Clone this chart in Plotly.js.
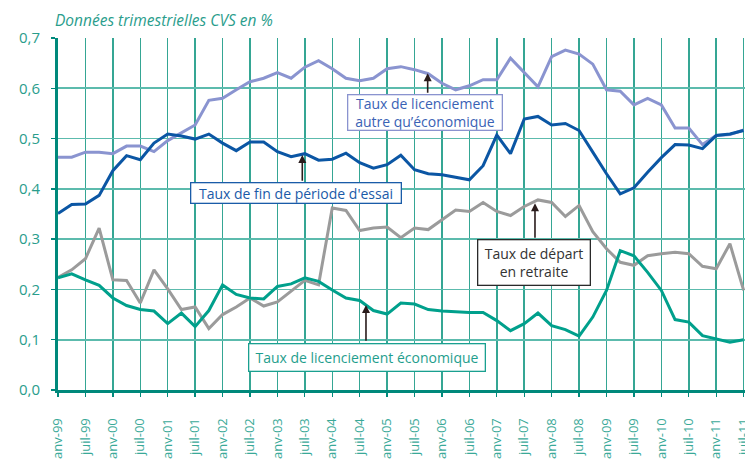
<!DOCTYPE html>
<html>
<head>
<meta charset="utf-8">
<script src="https://cdn.plot.ly/plotly-3.0.1.min.js"></script>
<style>html,body{margin:0;padding:0;background:#fff;overflow:hidden}#chart{width:745px;height:459px}</style>
</head>
<body>
<div id="chart"></div>
<script>
const quarters = [
  "1999T1","1999T2","1999T3","1999T4",
  "2000T1","2000T2","2000T3","2000T4",
  "2001T1","2001T2","2001T3","2001T4",
  "2002T1","2002T2","2002T3","2002T4",
  "2003T1","2003T2","2003T3","2003T4",
  "2004T1","2004T2","2004T3","2004T4",
  "2005T1","2005T2","2005T3","2005T4",
  "2006T1","2006T2","2006T3","2006T4",
  "2007T1","2007T2","2007T3","2007T4",
  "2008T1","2008T2","2008T3","2008T4",
  "2009T1","2009T2","2009T3","2009T4",
  "2010T1","2010T2","2010T3","2010T4",
  "2011T1","2011T2","2011T3"
];

const tickVals = [
  "1999T1","1999T3","2000T1","2000T3","2001T1","2001T3","2002T1","2002T3",
  "2003T1","2003T3","2004T1","2004T3","2005T1","2005T3","2006T1","2006T3",
  "2007T1","2007T3","2008T1","2008T3","2009T1","2009T3","2010T1","2010T3",
  "2011T1","2011T3"
];
const tickText = [
  "janv-99","juil-99","janv-00","juil-00","janv-01","juil-01","janv-02","juil-02",
  "janv-03","juil-03","janv-04","juil-04","janv-05","juil-05","janv-06","juil-06",
  "janv-07","juil-07","janv-08","juil-08","janv-09","juil-09","janv-10","juil-10",
  "janv-11","juil-11"
];

// Taux de licenciement autre qu'économique
const licAutre = [
  0.463,0.463,0.473,0.473,0.470,0.485,0.485,0.474,0.496,0.512,
  0.527,0.576,0.580,0.597,0.613,0.620,0.631,0.620,0.642,0.655,
  0.639,0.620,0.615,0.620,0.639,0.643,0.637,0.629,0.610,0.597,
  0.605,0.617,0.617,0.660,0.632,0.603,0.663,0.676,0.668,0.648,
  0.597,0.594,0.567,0.580,0.567,0.521,0.521,0.488,0.506,0.508,
  0.517
];
// Taux de fin de période d'essai
const finEssai = [
  0.351,0.369,0.370,0.387,0.436,0.466,0.458,0.491,0.509,0.505,
  0.499,0.509,0.491,0.476,0.493,0.493,0.474,0.464,0.470,0.457,
  0.459,0.471,0.452,0.441,0.448,0.467,0.438,0.430,0.428,0.423,
  0.418,0.446,0.507,0.470,0.539,0.544,0.527,0.530,0.516,0.473,
  0.430,0.390,0.402,0.433,0.462,0.488,0.487,0.480,0.506,0.509,
  0.516
];
// Taux de départ en retraite
const retraite = [
  0.224,0.239,0.261,0.322,0.219,0.218,0.173,0.239,0.201,0.160,
  0.165,0.122,0.150,0.165,0.183,0.167,0.175,0.196,0.218,0.209,
  0.362,0.357,0.317,0.322,0.324,0.303,0.322,0.319,0.338,0.358,
  0.355,0.373,0.355,0.347,0.365,0.378,0.373,0.345,0.367,0.315,
  0.281,0.254,0.248,0.267,0.271,0.274,0.271,0.246,0.241,0.291,
  0.198
];
// Taux de licenciement économique
const licEco = [
  0.223,0.231,0.219,0.208,0.183,0.168,0.160,0.157,0.132,0.153,
  0.126,0.158,0.209,0.190,0.183,0.181,0.206,0.211,0.223,0.216,
  0.199,0.183,0.178,0.158,0.151,0.173,0.171,0.160,0.157,0.155,
  0.154,0.154,0.138,0.118,0.132,0.153,0.128,0.120,0.107,0.145,
  0.198,0.277,0.267,0.234,0.198,0.140,0.135,0.108,0.102,0.095,
  0.100
];

const FONT = "'Open Sans', 'Noto Sans', sans-serif";
const TEAL = '#00897b';

function line(y, color, name) {
  return {x: quarters, y: y, type: 'scatter', mode: 'lines', name: name,
          line: {color: color, width: 3}, hoverinfo: 'skip'};
}

const traces = [
  line(retraite, '#9b9b9b', 'Taux de départ en retraite'),
  line(licEco, '#00a08c', 'Taux de licenciement économique'),
  line(licAutre, '#8a94d0', "Taux de licenciement autre qu'économique"),
  line(finEssai, '#0b56a4', "Taux de fin de période d'essai")
];

function box(text, x, y, w, h, color, border) {
  return {xref: 'paper', yref: 'paper', x: x, y: y, xanchor: 'center', yanchor: 'middle',
          text: text, showarrow: false, align: 'center', valign: 'middle',
          width: w - 2.6, height: h - 2.6, bgcolor: '#ffffff', bordercolor: border,
          borderwidth: 1.3, borderpad: 0,
          font: {family: FONT, size: 14, color: color}};
}
function arrow(x, y, ay) {
  return {xref: 'paper', yref: 'paper', x: x, y: y, text: '', showarrow: true,
          ax: 0, ay: ay, arrowhead: 2, arrowsize: 1, arrowwidth: 1.6,
          arrowcolor: '#2a1c1c', standoff: 0, startstandoff: 0};
}

const layout = {
  width: 745, height: 459,
  margin: {l: 58, r: 0, t: 38, b: 69, pad: 0},
  paper_bgcolor: '#ffffff', plot_bgcolor: '#ffffff',
  showlegend: false,
  separators: ', ',
  font: {family: FONT},
  xaxis: {
    type: 'category', range: [0, 50.1],
    tickmode: 'array', tickvals: tickVals, ticktext: tickText,
    tickangle: -90, ticks: 'outside', ticklen: 4, tickwidth: 1.3, tickcolor: TEAL,
    ticklabelstandoff: 16,
    tickfont: {family: FONT, size: 13, color: '#3aa998'},
    showgrid: true, gridcolor: '#35a694', gridwidth: 1.5,
    showline: true, linecolor: TEAL, linewidth: 3, zeroline: false
  },
  yaxis: {
    range: [0, 0.7], dtick: 0.1, tick0: 0, tickformat: '.1f',
    ticks: 'outside', ticklen: 4, tickwidth: 1.3, tickcolor: TEAL,
    ticklabelstandoff: 8,
    tickfont: {family: FONT, size: 15, color: '#2a9d8c'},
    showgrid: true, gridcolor: '#5cbbad', gridwidth: 1.6,
    showline: true, linecolor: TEAL, linewidth: 3, zeroline: false
  },
  annotations: [
    {xref: 'paper', yref: 'paper', x: 0, xshift: -5, y: 1.0511, xanchor: 'left', yanchor: 'middle',
     text: '<i>Données trimestrielles CVS en %</i>', showarrow: false,
     font: {family: FONT, size: 15.5, color: '#2a9d8c'}},
    arrow(0.5381, 0.8997, 21),
    arrow(0.3556, 0.6676, 27.3),
    arrow(0.6943, 0.5304, 36),
    arrow(0.4483, 0.2415, 37.3),
    box('Taux de licenciement<br>autre qu\u2019économique', 0.5347, 0.7878, 156, 37, '#3a62b5', '#8a93cf'),
    box("Taux de fin de période d'essai", 0.3463, 0.5588, 212, 22, '#1a5aa8', '#1a5ca8'),
    box('Taux de départ<br>en retraite', 0.6932, 0.3608, 114, 47, '#333333', '#2a2a2a'),
    box('Taux de licenciement économique', 0.4505, 0.09375, 238, 29, '#1f9e8d', '#1aa090')
  ]
};

Plotly.newPlot('chart', traces, layout, {displayModeBar: false, staticPlot: true});
</script>
</body>
</html>
